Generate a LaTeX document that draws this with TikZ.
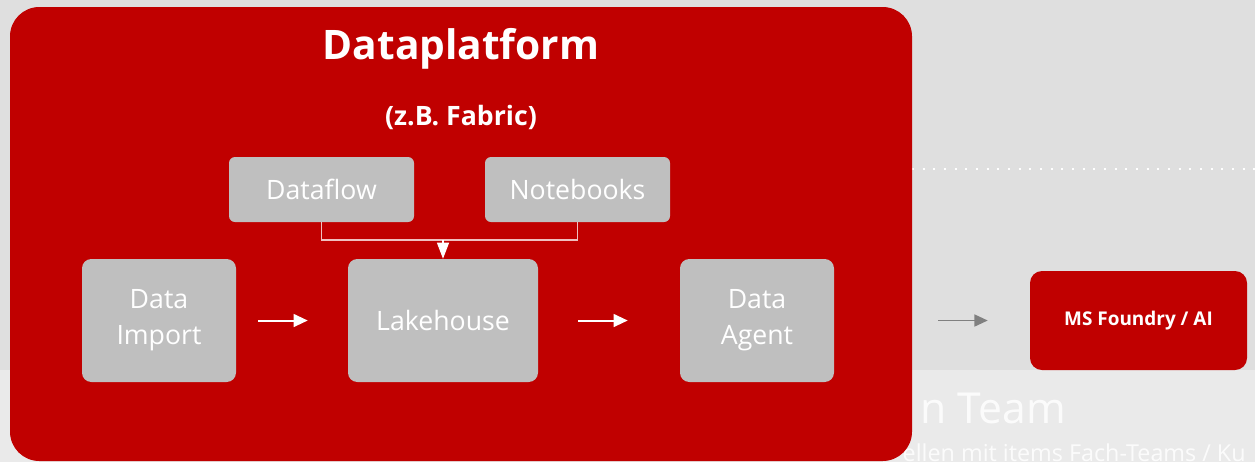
\documentclass[tikz,border=0pt]{standalone}
\usepackage{fontspec}
\setmainfont{Open Sans}
\usetikzlibrary{arrows.meta, positioning, calc}
\definecolor{fabricred}{HTML}{C00000}
\definecolor{boxgray}{HTML}{BFBFBF}
\definecolor{slidetop}{HTML}{DFDFDF}
\definecolor{slidebottom}{HTML}{EAEAEA}

\begin{document}
\begin{tikzpicture}[x=0.75pt, y=-0.75pt,
    platform/.style={rectangle, fill=fabricred, rounded corners=22pt, minimum width=676.5pt, minimum height=340.5pt},
    heading/.style={text=white, font=\bfseries\fontsize{30.5}{34}\selectfont},
    subheading/.style={text=white, font=\bfseries\fontsize{20}{24}\selectfont},
    tool/.style={rectangle, fill=boxgray, rounded corners=4.5pt, minimum width=138.75pt, minimum height=48.75pt, align=center, text=white, font=\fontsize{20}{24}\selectfont},
    stage/.style={rectangle, fill=boxgray, rounded corners=7pt, minimum height=92.25pt, align=center, text=white, font=\fontsize{20}{27}\selectfont},
    target/.style={rectangle, fill=fabricred, rounded corners=9pt, minimum width=162.75pt, minimum height=74.25pt, text=white, font=\bfseries\fontsize{14.2}{17}\selectfont},
    ghost/.style={text=white, text opacity=0.85, anchor=base west},
    flow/.style={white, line width=1.5pt, -{Triangle[width=9.5pt, length=10.5pt]}},
    handoff/.style={gray, line width=1.2pt, -{Triangle[width=9pt, length=10pt]}},
    feed/.style={white, draw opacity=0.75, line width=0.8pt}]
\useasboundingbox (0,0) rectangle (1255,462);
\clip (0,0) rectangle (1255,462);
% slide background
\fill[slidetop] (0,0) rectangle (1255,370);
\fill[slidebottom] (0,370) rectangle (1255,462);
\draw[white, line width=1.5pt, dash pattern=on 1.5pt off 6.5pt] (912,169) -- (1255,169);
\node[ghost, font=\fontsize{32}{36}\selectfont] (team) at (916,423) {n Team};
\node[ghost, font=\fontsize{17.5}{20}\selectfont] (teamsub) at (898,461) {ellen mit items Fach-Teams / Ku};
% platform
\node[platform] (platform) at (461,234) {};
\node[heading] (title) at (461,49) {Dataplatform};
\node[subheading] (sub) at (461,117) {(z.B. Fabric)};
% boxes
\node[tool] (dataflow) at (321.5,189.5) {Dataflow};
\node[tool] (notebooks) at (577.5,189.5) {Notebooks};
\node[stage, minimum width=115.5pt] (import) at (159,320.5) {Data\\Import};
\node[stage, minimum width=142.5pt] (lake) at (443,320.5) {Lakehouse};
\node[stage, minimum width=115.5pt] (agent) at (757,320.5) {Data\\Agent};
\node[target] (foundry) at (1138.5,320.5) {MS Foundry / AI};
% connectors
\coordinate (join) at (lake.north |- 0,240);
\draw[feed] (dataflow.south) |- (join) -| (notebooks.south);
\draw[white, line width=0.8pt, -{Triangle[width=9pt, length=12pt]}] (join) -- (lake.north);
\draw[flow] ([xshift=16.5pt]import.east) -- ([xshift=-30pt]lake.west);
\draw[flow] ([xshift=30pt]lake.east) -- ([xshift=-39pt]agent.west);
\draw[handoff] ([xshift=78pt]agent.east) -- ([xshift=-31.5pt]foundry.west);
\end{tikzpicture}
\end{document}
